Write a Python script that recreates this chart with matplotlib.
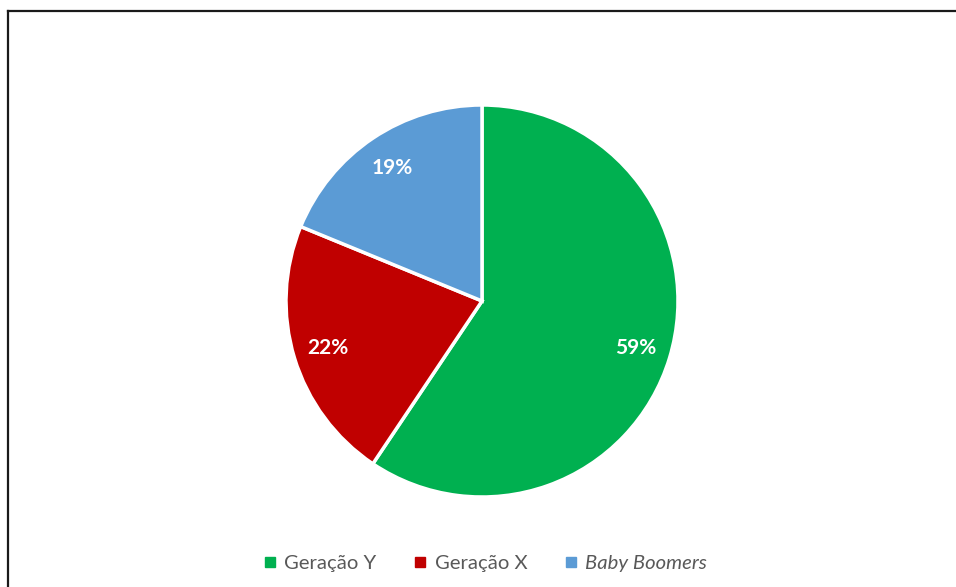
import matplotlib
matplotlib.use("Agg")
import matplotlib.pyplot as plt
from matplotlib.lines import Line2D

categories = ["Geração Y", "Geração X", "Baby Boomers"]
values = [59.4, 21.8, 18.8]
colors = ["#00B050", "#C00000", "#5B9BD5"]

W, H, DPI = 956, 587, 100
fig = plt.figure(figsize=(W / DPI, H / DPI), dpi=DPI)
fig.patch.set_facecolor("white")

cx, cy, r = 482, 301, 196
ax = fig.add_axes([(cx - r) / W, 1 - (cy + r) / H, 2 * r / W, 2 * r / H])
wedges, texts, autotexts = ax.pie(
    values, colors=colors, startangle=90, counterclock=False,
    autopct=lambda p: f"{p:.0f}%", pctdistance=0.82,
    wedgeprops=dict(edgecolor="white", linewidth=2.5),
    textprops=dict(color="white", fontsize=15, fontweight="bold", family="Lato"),
)
ax.set_xlim(-1, 1)
ax.set_ylim(-1, 1)
ax.set_aspect("equal")
ax.axis("off")

handles = [Line2D([], [], marker="s", linestyle="none", markersize=6.5,
                  markerfacecolor=c, markeredgecolor=c) for c in colors]
leg = fig.legend(handles, categories, loc="center",
                 bbox_to_anchor=(0.5 + 8 / W, 1 - 563 / H),
                 ncol=3, frameon=False, handlelength=0.5, handletextpad=0.45,
                 columnspacing=1.9, prop=dict(family="Lato", size=14.6))
for t in leg.get_texts():
    t.set_color("#595959")
leg.get_texts()[2].set_fontstyle("italic")

# border lines (top and left)
fig.add_artist(Line2D([7.5 / W, 1], [1 - 10.5 / H, 1 - 10.5 / H], color="#1a1a1a",
                      linewidth=1.6, transform=fig.transFigure))
fig.add_artist(Line2D([7.5 / W, 7.5 / W], [0, 1 - 10.5 / H], color="#1a1a1a",
                      linewidth=1.6, transform=fig.transFigure))

fig.savefig("out.png", dpi=DPI)
